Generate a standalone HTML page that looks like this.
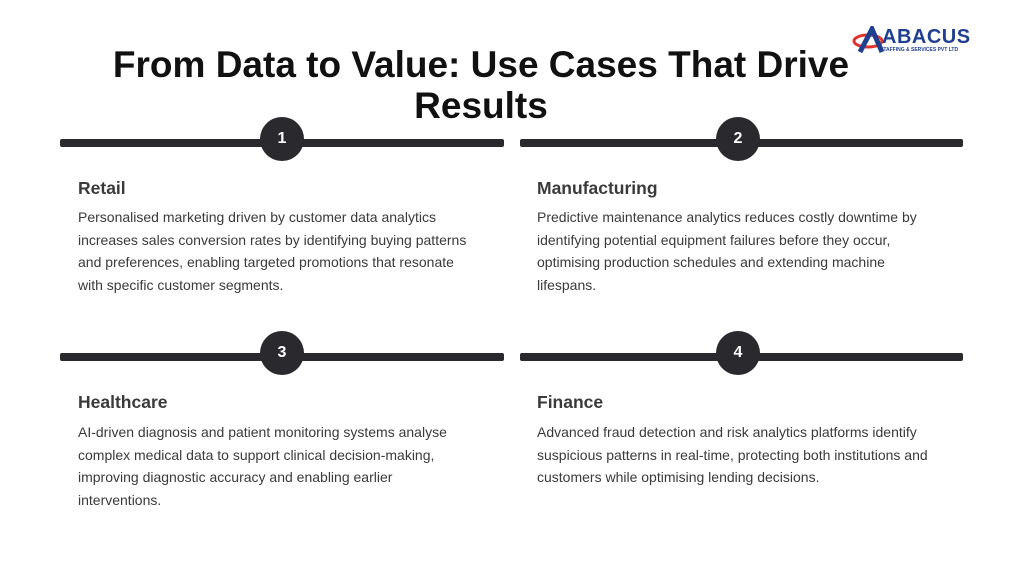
<!DOCTYPE html>
<html><head><meta charset="utf-8"><style>
body{margin:0;width:1024px;height:576px;background:#fff;position:relative;overflow:hidden;font-family:"Liberation Sans",sans-serif;color:#333}
.t{position:absolute;left:0;width:962px;top:44px;text-align:center;font-size:37px;font-weight:bold;line-height:41px;color:#111}
.bar{position:absolute;height:8px;background:#2a2a2e;border-radius:2px}
.c{position:absolute;width:44px;height:44px;border-radius:50%;background:#2a2a2e;color:#fff;font-weight:bold;font-size:16px;text-align:center;line-height:44px}
.h{position:absolute;font-size:17.5px;font-weight:bold;color:#3a3a3a}
.p{position:absolute;font-size:14px;line-height:22.5px;color:#3a3a3a;width:405px}
</style></head><body>
<div class="t">From Data to Value: Use Cases That Drive<br>Results</div>
<div style="position:absolute;left:852px;top:26px;width:120px;height:30px">
<svg width="40" height="28" style="position:absolute;left:0;top:0"><ellipse cx="16" cy="15" rx="14" ry="6" fill="none" stroke="#e0342c" stroke-width="3"/><path d="M8 26 L20 3 L30 26" fill="none" stroke="#1f3f8f" stroke-width="5"/></svg>
<div style="position:absolute;left:30px;top:0;font-weight:bold;font-size:20px;color:#1f3f8f;letter-spacing:0.5px">ABACUS</div>
<div style="position:absolute;left:28px;top:21px;font-size:5px;font-weight:bold;color:#1f3f8f;white-space:nowrap">STAFFING &amp; SERVICES PVT LTD</div>
</div>
<div class="bar" style="left:60px;top:139px;width:444px"></div>
<div class="bar" style="left:520px;top:139px;width:443px"></div>
<div class="bar" style="left:60px;top:353px;width:444px"></div>
<div class="bar" style="left:520px;top:353px;width:443px"></div>
<div class="c" style="left:260px;top:117px">1</div>
<div class="c" style="left:716px;top:117px">2</div>
<div class="c" style="left:260px;top:331px">3</div>
<div class="c" style="left:716px;top:331px">4</div>
<div class="h" style="left:78px;top:178px">Retail</div>
<div class="h" style="left:537px;top:178px">Manufacturing</div>
<div class="h" style="left:78px;top:392px">Healthcare</div>
<div class="h" style="left:537px;top:392px">Finance</div>
<div class="p" style="left:78px;top:206px">Personalised marketing driven by customer data analytics<br>increases sales conversion rates by identifying buying patterns<br>and preferences, enabling targeted promotions that resonate<br>with specific customer segments.</div>
<div class="p" style="left:537px;top:206px">Predictive maintenance analytics reduces costly downtime by<br>identifying potential equipment failures before they occur,<br>optimising production schedules and extending machine<br>lifespans.</div>
<div class="p" style="left:78px;top:421px">AI-driven diagnosis and patient monitoring systems analyse<br>complex medical data to support clinical decision-making,<br>improving diagnostic accuracy and enabling earlier<br>interventions.</div>
<div class="p" style="left:537px;top:421px">Advanced fraud detection and risk analytics platforms identify<br>suspicious patterns in real-time, protecting both institutions and<br>customers while optimising lending decisions.</div>
</body></html>
